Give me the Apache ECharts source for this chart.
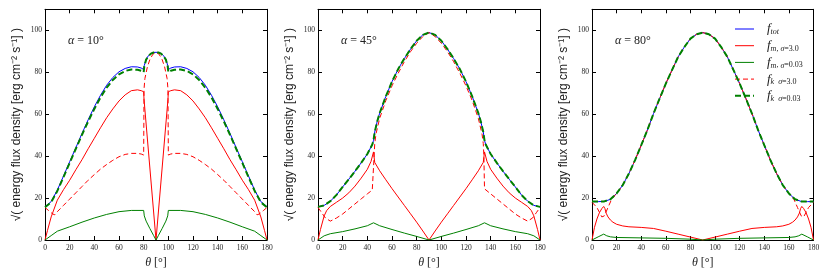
<!DOCTYPE html>
<html><head><meta charset="utf-8">
<script src="https://cdn.jsdelivr.net/npm/echarts@6/dist/echarts.min.js"></script>
<style>html,body{margin:0;padding:0;background:#fff}#c{width:830px;height:277px}</style>
</head><body><div id="c"></div>
<script>
// ---------- data: [theta (deg), sqrt(energy flux density)] ----------
const panelLabels = ['10°', '45°', '80°'];
const xTicks = [0, 20, 40, 60, 80, 100, 120, 140, 160, 180];
const yTicks = [0, 20, 40, 60, 80, 100];

// alpha = 10
const p1Tot = [[0,15.9],[5,18.3],[10,23.8],[15,30.5],[20,37.3],[25,44],[30,50.8],[35,57.3],[40,63.5],[45,69],[50,73.8],[55,77.5],[60,80.2],[65,81.8],[70,82.6],[75,82.5],[78,82],[80,81.3],[80.5,83.2],[82,86.2],[84,88],[86,89],[88,89.4],[90,89.5],[92,89.4],[94,89],[96,88],[98,86.2],[99.5,83.2],[100,81.3],[102,82],[105,82.5],[110,82.6],[115,81.8],[120,80.2],[125,77.5],[130,73.8],[135,69],[140,63.5],[145,57.3],[150,50.8],[155,44],[160,37.3],[165,30.5],[170,23.8],[175,18.3],[180,15.9]];
const p1M30 = [[0,0],[2,4.5],[5,11],[10,19],[15,24],[20,28.5],[25,33.5],[30,38.3],[35,43.5],[40,48.5],[45,53.5],[50,58.3],[55,62.5],[60,66.3],[65,69.2],[70,71.2],[75,71.6],[78,71.2],[80,70.7],[80.3,67],[90,0],[99.7,67],[100,70.7],[102,71.2],[105,71.6],[110,71.2],[115,69.2],[120,66.3],[125,62.5],[130,58.3],[135,53.5],[140,48.5],[145,43.5],[150,38.3],[155,33.5],[160,28.5],[165,24],[170,19],[175,11],[178,4.5],[180,0]];
const p1M003 = [[0,0],[5,2.1],[10,4.2],[20,6.3],[30,8.5],[40,10.5],[50,12.2],[60,13.5],[70,14.1],[80,14.1],[80.5,11.5],[82,9],[85,5.5],[88,2.2],[90,0],[92,2.2],[95,5.5],[98,9],[99.5,11.5],[100,14.1],[110,14.1],[120,13.5],[130,12.2],[140,10.5],[150,8.5],[160,6.3],[170,4.2],[175,2.1],[180,0]];
const p1K30 = [[0,15.5],[3,14],[6,12.5],[8,12],[10,13.5],[15,16.5],[20,19.5],[25,22.5],[30,25.5],[35,28.5],[40,31.2],[45,33.8],[50,36],[55,38],[60,39.7],[65,40.8],[70,41.3],[75,41.3],[78,41],[80,40.5],[80.3,72],[81,77],[83,82.5],[85,86],[87.5,88.6],[90,89.5],[92.5,88.6],[95,86],[97,82.5],[99,77],[99.7,72],[100,40.5],[102,41],[105,41.3],[110,41.3],[115,40.8],[120,39.7],[125,38],[130,36],[135,33.8],[140,31.2],[145,28.5],[150,25.5],[155,22.5],[160,19.5],[165,16.5],[170,13.5],[172,12],[174,12.5],[177,14],[180,15.5]];
const p1K003 = [[0,15.6],[5,18],[10,23.4],[15,30],[20,36.8],[25,43.5],[30,50.2],[35,56.5],[40,62.5],[45,68],[50,72.6],[55,76.3],[60,79],[65,80.6],[70,81.3],[75,81.2],[78,80.7],[80,80],[80.5,82.8],[82,86],[84,87.8],[86,88.9],[88,89.4],[90,89.5],[92,89.4],[94,88.9],[96,87.8],[98,86],[99.5,82.8],[100,80],[102,80.7],[105,81.2],[110,81.3],[115,80.6],[120,79],[125,76.3],[130,72.6],[135,68],[140,62.5],[145,56.5],[150,50.2],[155,43.5],[160,36.8],[165,30],[170,23.4],[175,18],[180,15.6]];

// alpha = 45
const p2Tot = [[0,15.8],[5,16.5],[10,18.5],[15,21.5],[20,25.3],[25,29],[30,32.8],[35,36.8],[40,41],[44,45.5],[45,47.5],[46,51.5],[48,56.5],[50,60.5],[55,68.5],[60,75.5],[65,81.5],[70,86.5],[75,91],[80,95],[85,97.8],[90,98.9],[95,97.8],[100,95],[105,91],[110,86.5],[115,81.5],[120,75.5],[125,68.5],[130,60.5],[132,56.5],[134,51.5],[135,47.5],[136,45.5],[140,41],[145,36.8],[150,32.8],[155,29],[160,25.3],[165,21.5],[170,18.5],[175,16.5],[180,15.8]];
const p2M30 = [[0,0],[2,5],[5,11.5],[7,14],[10,16],[15,18],[20,20],[25,22.5],[30,25.7],[35,29.5],[40,33.7],[43,37.5],[45,42],[46,37],[50,33],[55,28.7],[60,24.5],[65,20.5],[70,16.5],[75,12.5],[80,8.5],[85,4.3],[90,0],[95,4.3],[100,8.5],[105,12.5],[110,16.5],[115,20.5],[120,24.5],[125,28.7],[130,33],[134,37],[135,42],[137,37.5],[140,33.7],[145,29.5],[150,25.7],[155,22.5],[160,20],[165,18],[170,16],[173,14],[175,11.5],[178,5],[180,0]];
const p2M003 = [[0,0],[5,2],[10,3],[20,4],[30,5.3],[40,6.8],[45,8.2],[50,6.8],[60,5],[70,3.3],[80,1.7],[90,0],[100,1.7],[110,3.3],[120,5],[130,6.8],[135,8.2],[140,6.8],[150,5.3],[160,4],[170,3],[175,2],[180,0]];
const p2K30 = [[0,15.5],[3,13],[6,10.5],[10,9],[15,10.5],[20,12.4],[25,14.8],[30,17.2],[35,19.6],[40,22],[44,23.8],[45,24.4],[45.5,40],[46,46],[47,50.5],[50,58],[55,66.5],[60,73.5],[65,79.5],[70,85],[75,89.8],[80,93.8],[85,97],[90,98.9],[95,97],[100,93.8],[105,89.8],[110,85],[115,79.5],[120,73.5],[125,66.5],[130,58],[133,50.5],[134,46],[134.5,40],[135,24.4],[136,23.8],[140,22],[145,19.6],[150,17.2],[155,14.8],[160,12.4],[165,10.5],[170,9],[174,10.5],[177,13],[180,15.5]];
const p2K003 = [[0,15.8],[5,16.5],[10,18.5],[15,21.5],[20,25.3],[25,29],[30,32.8],[35,36.8],[40,41],[44,45.5],[45,47.5],[46,51.5],[48,56.5],[50,60.5],[55,68.5],[60,75.5],[65,81.5],[70,86.5],[75,91],[80,95],[85,97.8],[90,98.9],[95,97.8],[100,95],[105,91],[110,86.5],[115,81.5],[120,75.5],[125,68.5],[130,60.5],[132,56.5],[134,51.5],[135,47.5],[136,45.5],[140,41],[145,36.8],[150,32.8],[155,29],[160,25.3],[165,21.5],[170,18.5],[175,16.5],[180,15.8]];

// alpha = 80
const p3Tot = [[0,18.3],[5,18.3],[10,18.4],[15,19.4],[20,22.2],[25,26.2],[30,31.7],[35,38.1],[40,45.2],[45,52.4],[50,60.3],[55,67.5],[60,74.6],[65,81],[70,87.3],[75,92],[80,96],[85,98.1],[90,98.9],[95,98.1],[100,96],[105,92],[110,87.3],[115,81],[120,74.6],[125,67.5],[130,60.3],[135,52.4],[140,45.2],[145,38.1],[150,31.7],[155,26.2],[160,22.2],[165,19.4],[170,18.4],[175,18.3],[180,18.3]];
const p3M30 = [[0,0],[2,6],[4,10],[6,13],[8,15],[9.5,16],[10.5,15],[11.5,12.8],[13,11],[15,9.5],[17,8.5],[20,7.5],[25,6.7],[30,6.3],[40,6],[50,5.5],[60,4.2],[70,2.8],[80,1.4],[90,0],[100,1.4],[110,2.8],[120,4.2],[130,5.5],[140,6],[150,6.3],[155,6.7],[160,7.5],[163,8.5],[165,9.5],[167,11],[168.5,12.8],[169.5,15],[170.5,16],[172,15],[174,13],[176,10],[178,6],[180,0]];
const p3M003 = [[0,0],[5,1.5],[9.5,2.8],[12,2],[15,1.5],[20,1.2],[40,1],[60,0.8],[80,0.4],[90,0],[100,0.4],[120,0.8],[140,1],[160,1.2],[165,1.5],[168,2],[170.5,2.8],[175,1.5],[180,0]];
const p3K30 = [[0,18],[4,15.5],[8,11],[10,11.5],[13,15.5],[16,19.5],[20,22.2],[25,26.2],[30,31.7],[35,38.1],[40,45.2],[45,52.4],[50,60.3],[55,67.5],[60,74.6],[65,81],[70,87.3],[75,92],[80,96],[85,98.1],[90,98.9],[95,98.1],[100,96],[105,92],[110,87.3],[115,81],[120,74.6],[125,67.5],[130,60.3],[135,52.4],[140,45.2],[145,38.1],[150,31.7],[155,26.2],[160,22.2],[164,19.5],[167,15.5],[170,11.5],[172,11],[176,15.5],[180,18]];
const p3K003 = [[0,18.3],[5,18.3],[10,18.4],[15,19.4],[20,22.2],[25,26.2],[30,31.7],[35,38.1],[40,45.2],[45,52.4],[50,60.3],[55,67.5],[60,74.6],[65,81],[70,87.3],[75,92],[80,96],[85,98.1],[90,98.9],[95,98.1],[100,96],[105,92],[110,87.3],[115,81],[120,74.6],[125,67.5],[130,60.3],[135,52.4],[140,45.2],[145,38.1],[150,31.7],[155,26.2],[160,22.2],[165,19.4],[170,18.4],[175,18.3],[180,18.3]];

const seriesNames = ['ftot', 'fm3', 'fm003', 'fk3', 'fk003'];
const panels = [
  [p1Tot, p1M30, p1M003, p1K30, p1K003],
  [p2Tot, p2M30, p2M003, p2K30, p2K003],
  [p3Tot, p3M30, p3M003, p3K30, p3K003]
];

// ---------- styling ----------
const SERIF = "'Liberation Serif', 'DejaVu Serif', serif";
const SANS = "'Liberation Sans', Arial, sans-serif";
const lineStyles = {
  ftot:  { color: '#0000ff', width: 1, type: 'solid' },
  fm3:   { color: '#ff0000', width: 1, type: 'solid' },
  fm003: { color: '#008000', width: 1, type: 'solid' },
  fk3:   { color: '#ff0000', width: 1, type: [5, 3] },
  fk003: { color: '#008000', width: 2, type: [6, 3] }
};
const legendText = {
  ftot:  '{f|f}{si|tot}',
  fm3:   '{f|f}{si|m}{sr|, }{si|σ}{sr|=3.0}',
  fm003: '{f|f}{si|m}{sr|, }{si|σ}{sr|=0.03}',
  fk3:   '{f|f}{si|k}{sr|  }{si|σ}{sr|=3.0}',
  fk003: '{f|f}{si|k}{sr|  }{si|σ}{sr|=0.03}'
};

const grids = [
  { left: 45, top: 9.3, width: 222, height: 230.7 },
  { left: 318, top: 9.3, width: 222, height: 230.7 },
  { left: 592, top: 9.3, width: 221.5, height: 230.7 }
];
const axisLine = { show: true, onZero: false, lineStyle: { color: '#000', width: 1 } };
const axisTick = { show: true, inside: true, length: 4, lineStyle: { color: '#000', width: 1 } };
const tickFont = { fontFamily: SERIF, fontSize: 7.5, color: '#222' };

const xAxes = [], yAxes = [], series = [], titles = [];
grids.forEach((g, i) => {
  xAxes.push({
    type: 'value', gridIndex: i, min: xTicks[0], max: xTicks[xTicks.length - 1], interval: xTicks[1] - xTicks[0],
    position: 'bottom', axisLine, axisTick, splitLine: { show: false },
    axisLabel: Object.assign({ margin: 4 }, tickFont),
    name: '{t|θ} [°]', nameLocation: 'middle', nameGap: 15,
    nameTextStyle: { fontFamily: SERIF, fontSize: 12, color: '#222', rich: { t: { fontFamily: SERIF, fontSize: 12, fontStyle: 'italic', color: '#222' } } }
  });
  xAxes.push({
    type: 'value', gridIndex: i, min: xTicks[0], max: xTicks[xTicks.length - 1], interval: xTicks[1] - xTicks[0],
    position: 'top', axisLine, axisTick, splitLine: { show: false }, axisLabel: { show: false }
  });
  yAxes.push({
    type: 'value', gridIndex: i, min: 0, max: 110, interval: yTicks[1] - yTicks[0],
    position: 'left', axisLine, axisTick, splitLine: { show: false },
    axisLabel: Object.assign({ margin: 3, showMaxLabel: false, formatter: v => (yTicks.indexOf(v) >= 0 ? String(v) : '') }, tickFont),
    name: '√( energy flux density [erg cm⁻² s⁻¹] )', nameLocation: 'middle', nameGap: 22,
    nameTextStyle: { fontFamily: SANS, fontSize: 12, color: '#222' }
  });
  yAxes.push({
    type: 'value', gridIndex: i, min: 0, max: 110, interval: yTicks[1] - yTicks[0],
    position: 'right', axisLine, axisTick, splitLine: { show: false }, axisLabel: { show: false }
  });
  panels[i].forEach((data, k) => {
    const name = seriesNames[k];
    series.push({
      type: 'line', name, xAxisIndex: 2 * i, yAxisIndex: 2 * i, data,
      symbol: 'circle', showSymbol: false, smooth: false, animation: false,
      lineStyle: lineStyles[name], itemStyle: { color: lineStyles[name].color },
      emphasis: { disabled: true }, silent: true, z: 2 + k
    });
  });
  titles.push({
    text: '{a|α} = ' + panelLabels[i], left: g.left + 18, top: 30,
    textStyle: { fontFamily: SERIF, fontSize: 12, fontWeight: 'normal', color: '#222',
      rich: { a: { fontFamily: SERIF, fontSize: 12, fontStyle: 'italic', color: '#222' } } }
  });
});

const chart = echarts.init(document.getElementById('c'), null, { renderer: 'canvas' });
chart.setOption({
  animation: false,
  backgroundColor: '#fff',
  title: titles,
  grid: grids,
  xAxis: xAxes,
  yAxis: yAxes,
  legend: {
    orient: 'vertical', left: 729, top: 17, itemWidth: 19, itemHeight: 10, itemGap: 2.7,
    selectedMode: false, data: seriesNames,
    itemStyle: { opacity: 0 }, lineStyle: { width: 'inherit' },
    formatter: n => legendText[n],
    textStyle: {
      fontFamily: SERIF, fontSize: 12, color: '#222', padding: [0, 0, 0, 8], lineHeight: 14,
      rich: {
        f: { fontFamily: SERIF, fontSize: 13, fontStyle: 'italic', color: '#222', lineHeight: 14 },
        si: { fontFamily: SERIF, fontSize: 8, fontStyle: 'italic', color: '#222', lineHeight: 6, verticalAlign: 'bottom' },
        sr: { fontFamily: SERIF, fontSize: 8, color: '#222', lineHeight: 6, verticalAlign: 'bottom' }
      }
    }
  },
  series
});
</script></body></html>
